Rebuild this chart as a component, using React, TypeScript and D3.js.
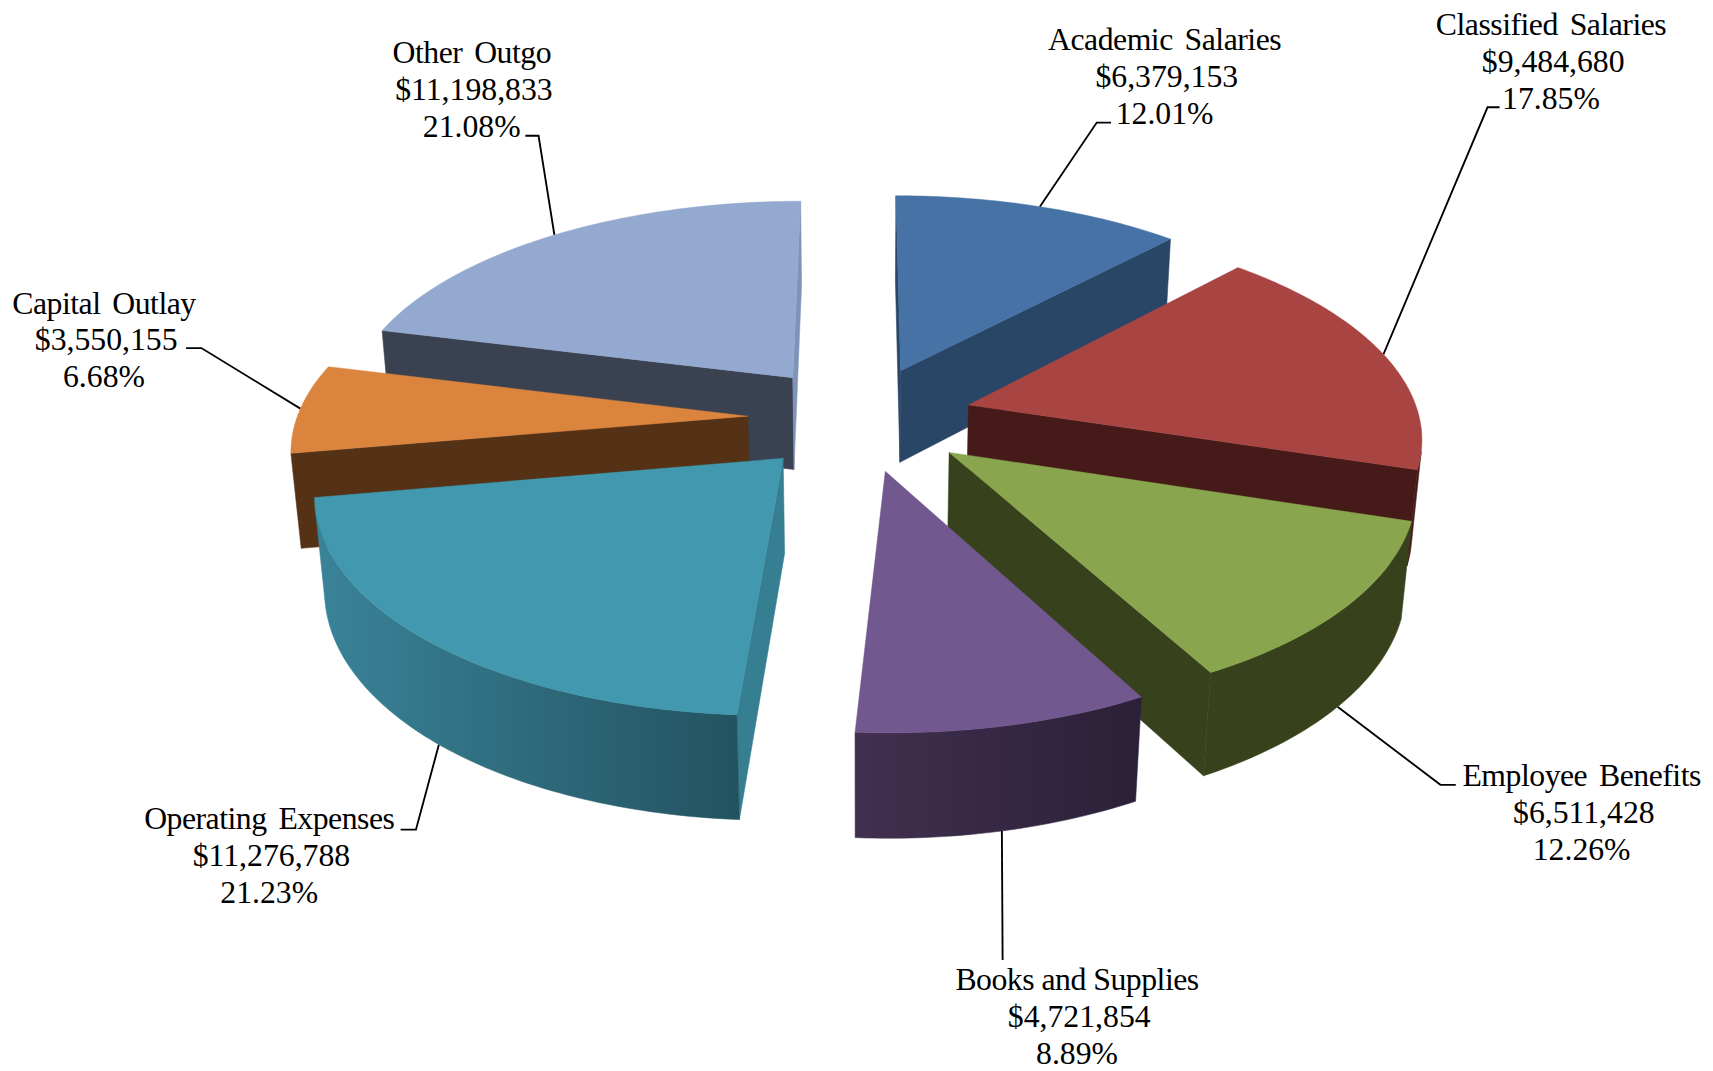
import React from "react";
import * as d3 from "d3";

// ---- data ----
const categories = ["Academic Salaries", "Classified Salaries", "Employee Benefits", "Books and Supplies", "Operating Expenses", "Capital Outlay", "Other Outgo"];
const amounts = [6379153, 9484680, 6511428, 4721854, 11276788, 3550155, 11198833];
const amountLabels = ["$6,379,153", "$9,484,680", "$6,511,428", "$4,721,854", "$11,276,788", "$3,550,155", "$11,198,833"];
const percentLabels = ["12.01%", "17.85%", "12.26%", "8.89%", "21.23%", "6.68%", "21.08%"];

// ---- styles ----
const topColors = ["#4672A6", "#A84543", "#89A54E", "#71588F", "#4198AF", "#DB843D", "#93A9CF"];
const cutColors = ["#2A4666", "#451A18", "#37411C", "#2C2038", "#367F92", "#553216", "#3A4150"];
const wallFrom = ["#2A4666", "#451A18", "#37411C", "#2B2038", "#235360", "#553216", "#3A4150"];
const wallTo = ["#2A4666", "#451A18", "#37411C", "#41304F", "#3A8399", "#553216", "#3A4150"];
const endCutColors = ["#2A4666", "#451A18", "#37411C", "#2C2038", "#367F92", "#553216", "#7F93B8"];
const paintOrder = [0, 6, 5, 1, 2, 4, 3];

// ---- layout (in the 1565-wide drawing space) ----
const W = 1565;
const H = (1071 / 1713) * W;
const cx = 786, cy = 382, ax = 412, by = 192.3, perspX = 0.135, perspY = 0.135, depthC = 87, depthQ = 0.018, explode = 0.25;
const labelX = [1064, 1417, 1445, 984, 246, 95, 431];
const labelY = [46, 32, 718.5, 904.5, 757.5, 286.5, 58];
const lineGap = 33.6;
const leaderTop = [true, true, false, false, false, true, true];
const leaderElbow: [number, number][][] = [
  [[1015, 112], [1002, 112]],
  [[1370, 98], [1359, 98]],
  [[1330, 717], [1316, 717]],
  [[916, 877]],
  [[366, 758], [380, 758]],
  [[170, 318], [184, 318]],
  [[480, 124], [492, 124]],
];

const arcs = d3.pie<number>().sort(null).startAngle(0).endAngle(2 * Math.PI)(amounts);
const line = d3.line();

function project(X: number, Y: number, low: boolean): [number, number] {
  const q = low ? depthQ : 0;
  return [cx + (ax * X) / (1 - perspX * Y + q), cy + (by * Y + (low ? depthC : 0)) / (1 - perspY * Y + q)];
}
function plane(i: number, theta: number | null): [number, number] {
  const mid = (arcs[i].startAngle + arcs[i].endAngle) / 2;
  const ox = explode * Math.sin(mid), oy = -explode * Math.cos(mid);
  return theta === null ? [ox, oy] : [ox + Math.sin(theta), oy - Math.cos(theta)];
}

function Slice({ i }: { i: number }) {
  const a = arcs[i];
  const steps = Math.max(4, Math.ceil((a.endAngle - a.startAngle) / (Math.PI / 180)));
  const thetas = d3.range(steps + 1).map((k) => a.startAngle + ((a.endAngle - a.startAngle) * k) / steps);
  const apex = plane(i, null);
  const rim = thetas.map((t) => plane(i, t));
  const top = [apex, ...rim].map((p) => project(p[0], p[1], false));

  const quad = (p: [number, number], q: [number, number]): [number, number][] => [
    project(p[0], p[1], false),
    project(q[0], q[1], false),
    project(q[0], q[1], true),
    project(p[0], p[1], true),
  ];
  // a wall is visible when its quad winds this way on the screen
  const visible = (pts: [number, number][]) => d3.polygonArea(pts) > 0;

  const startQuad = quad(apex, rim[0]);
  const endQuad = quad(rim[steps], apex);
  const shownRim = d3.range(steps).filter((k) => visible(quad(rim[k], rim[k + 1])));
  let wallPath = "";
  let x1 = 0, x2 = 0;
  if (shownRim.length) {
    const idx = [...shownRim, shownRim[shownRim.length - 1] + 1];
    const upper = idx.map((k) => project(rim[k][0], rim[k][1], false));
    const lower = idx.map((k) => project(rim[k][0], rim[k][1], true)).reverse();
    wallPath = line([...upper, ...lower]) + "Z";
    x1 = project(rim[0][0], rim[0][1], false)[0];
    x2 = project(rim[steps][0], rim[steps][1], false)[0];
  }
  const gid = `wall${i}`;
  return (
    <g>
      <defs>
        <linearGradient id={gid} gradientUnits="userSpaceOnUse" x1={x1} y1={0} x2={x2} y2={0}>
          <stop offset="0" stopColor={wallFrom[i]} />
          <stop offset="1" stopColor={wallTo[i]} />
        </linearGradient>
      </defs>
      {visible(startQuad) && <path d={line(startQuad) + "Z"} fill={cutColors[i]} stroke={cutColors[i]} strokeWidth={0.5} />}
      {visible(endQuad) && <path d={line(endQuad) + "Z"} fill={endCutColors[i]} stroke={endCutColors[i]} strokeWidth={0.5} />}
      {wallPath && <path d={wallPath} fill={`url(#${gid})`} stroke={`url(#${gid})`} strokeWidth={0.5} />}
      <path d={line(top) + "Z"} fill={topColors[i]} stroke={topColors[i]} strokeWidth={0.4} strokeLinejoin="round" />
    </g>
  );
}

function Leader({ i }: { i: number }) {
  const a = arcs[i];
  const t = (a.startAngle + a.endAngle) / 2;
  const p = plane(i, t);
  const end = project(p[0], p[1], !leaderTop[i]);
  return <path d={line([...leaderElbow[i], end]) as string} fill="none" stroke="#000" strokeWidth={1.7} />;
}

export default function App() {
  return (
    <svg
      width={1713}
      height={1071}
      viewBox={`0 0 ${W} ${H}`}
      style={{ position: "absolute", left: 0, top: 0, background: "#fff" }}
    >
      {categories.map((_, i) => (
        <Leader key={i} i={i} />
      ))}
      {paintOrder.map((i) => (
        <Slice key={i} i={i} />
      ))}
      <g fontFamily="'Liberation Serif', serif" fontSize={29} fill="#000" textAnchor="middle">
        {categories.map((c, i) => (
          <text key={c} x={labelX[i]} y={labelY[i]}>
            <tspan x={labelX[i]} letterSpacing={-0.45} wordSpacing={c.includes("and") ? 0 : 4}>{c}</tspan>
            <tspan x={labelX[i] + 2} dy={lineGap}>{amountLabels[i]}</tspan>
            <tspan x={labelX[i]} dy={lineGap}>{percentLabels[i]}</tspan>
          </text>
        ))}
      </g>
    </svg>
  );
}
